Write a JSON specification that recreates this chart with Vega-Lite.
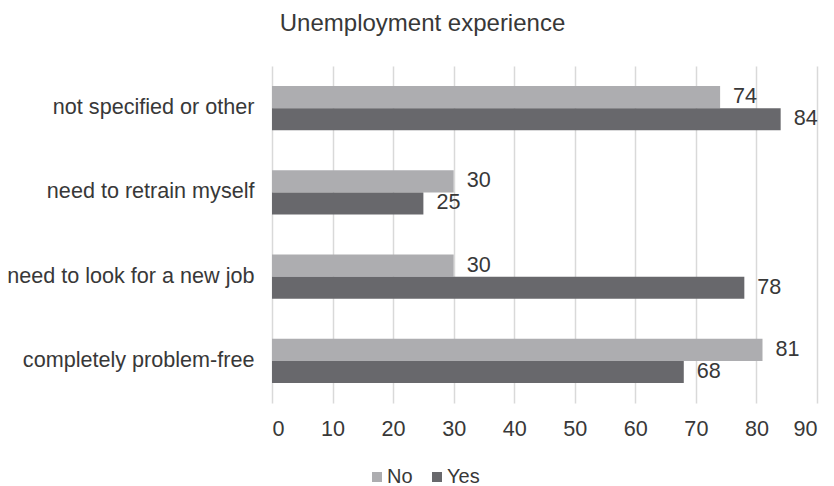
{
  "$schema": "https://vega.github.io/schema/vega-lite/v6.json",
  "autosize": {"type": "none"},
  "padding": {"left": 272, "top": 66, "right": 17, "bottom": 83},
  "width": 545,
  "height": 337,
  "background": "white",
  "title": {
    "text": "Unemployment experience",
    "anchor": "middle",
    "frame": "group",
    "dx": -122,
    "offset": 30,
    "fontSize": 24,
    "fontWeight": "normal",
    "font": "Liberation Sans",
    "color": "#383838"
  },
  "config": {
    "font": "Liberation Sans",
    "view": {"stroke": null},
    "text": {"color": "#383838"}
  },
  "data": {
    "values": [
      {"answer": "not specified or other", "experience": "No", "value": 74},
      {"answer": "not specified or other", "experience": "Yes", "value": 84},
      {"answer": "need to retrain myself", "experience": "No", "value": 30},
      {"answer": "need to retrain myself", "experience": "Yes", "value": 25},
      {"answer": "need to look for a new job", "experience": "No", "value": 30},
      {"answer": "need to look for a new job", "experience": "Yes", "value": 78},
      {"answer": "completely problem-free", "experience": "No", "value": 81},
      {"answer": "completely problem-free", "experience": "Yes", "value": 68}
    ]
  },
  "encoding": {
    "y": {
      "field": "answer",
      "type": "nominal",
      "sort": ["not specified or other", "need to retrain myself", "need to look for a new job", "completely problem-free"],
      "scale": {"paddingInner": 0.476, "paddingOuter": 0.238},
      "axis": {
        "title": null,
        "domain": false,
        "ticks": false,
        "labelFontSize": 21.6,
        "labelColor": "#383838",
        "labelPadding": 18,
        "labelLimit": 400
      }
    },
    "yOffset": {
      "field": "experience",
      "type": "nominal",
      "sort": ["No", "Yes"]
    },
    "x": {
      "field": "value",
      "type": "quantitative",
      "scale": {"domain": [0, 90], "nice": false},
      "axis": {
        "title": null,
        "values": [0, 10, 20, 30, 40, 50, 60, 70, 80, 90],
        "domain": false,
        "ticks": false,
        "grid": true,
        "gridColor": "#d9d9d9",
        "gridWidth": 1.5,
        "labelFontSize": 21.6,
        "labelColor": "#383838",
        "labelPadding": 15
      }
    }
  },
  "layer": [
    {
      "mark": {"type": "bar"},
      "encoding": {
        "color": {
          "field": "experience",
          "type": "nominal",
          "sort": ["No", "Yes"],
          "scale": {"domain": ["No", "Yes"], "range": ["#adadb0", "#68686c"]},
          "legend": {
            "title": null,
            "orient": "none",
            "direction": "horizontal",
            "legendX": 95,
            "legendY": 401,
            "padding": 0,
            "symbolType": "square",
            "symbolSize": 100,
            "symbolStrokeWidth": 0,
            "labelFontSize": 20,
            "labelColor": "#383838",
            "labelOffset": 0,
            "columnPadding": 14
          }
        }
      }
    },
    {
      "mark": {"type": "text", "align": "left", "baseline": "middle", "dx": 13, "fontSize": 21.6},
      "encoding": {
        "text": {"field": "value", "type": "quantitative"}
      }
    }
  ]
}
